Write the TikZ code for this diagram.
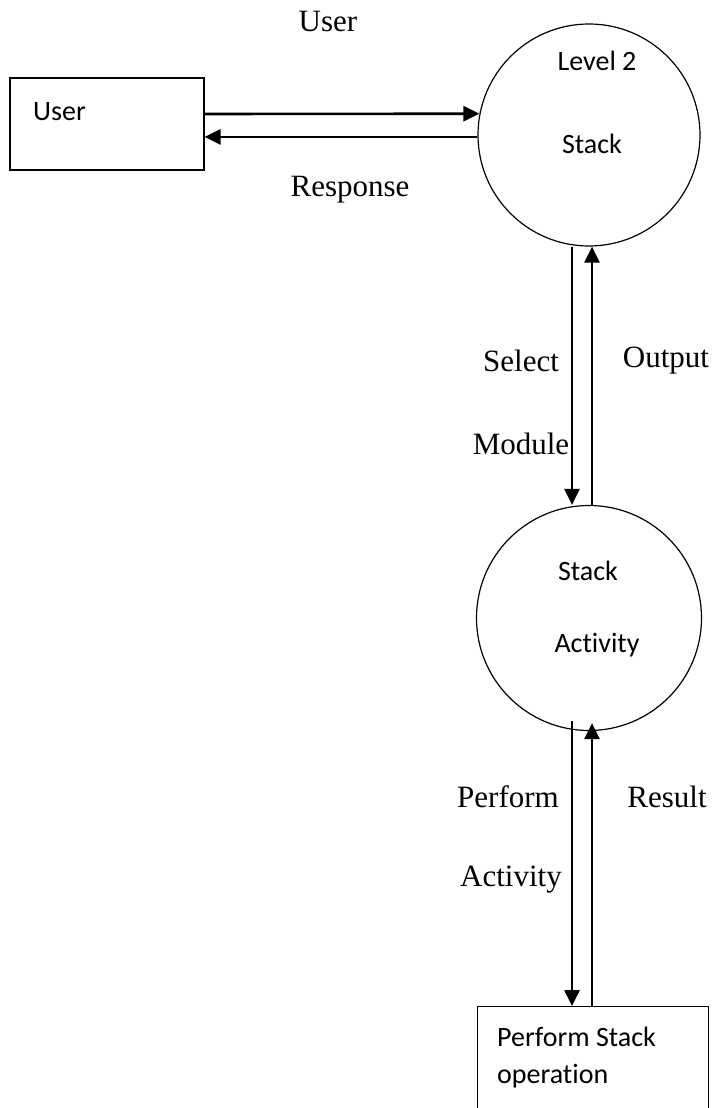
\documentclass[tikz,border=0pt]{standalone}
\usepackage{fontspec}
\setmainfont{Liberation Serif}
\newfontfamily\boxfont[Ligatures=NoCommon]{Carlito}
\usetikzlibrary{arrows.meta}
\begin{document}
\begin{tikzpicture}[x=1pt,y=-1pt,
  flow/.style={line width=2.6pt,-{Triangle[length=16pt,width=15pt]}},
  proc/.style={draw,line width=1.2pt,circle,minimum size=222pt,inner sep=0pt},
  ent/.style={draw,line width=1.2pt,rectangle,inner sep=0pt},
  boxtxt/.style={font=\boxfont\fontsize{28}{30}\selectfont,inner sep=0pt},
  lbl/.style={font=\fontsize{31}{33}\selectfont,inner sep=0pt}]
\clip (0,0) rectangle (714,1108);
\fill[white] (0,0) rectangle (714,1108);

% external entity and processes
\node[ent,minimum width=194pt,minimum height=92pt] (user) at (107,124) {};
\node[boxtxt,anchor=west] (usertxt) at (33,112) {User};

\node[proc] (lvl) at (589,135) {};
\node[boxtxt] (lvlA) at (597,61) {Level 2};
\node[boxtxt] (lvlB) at (592,144) {Stack};

\node[proc,minimum size=225pt] (act) at (589,618) {};
\node[boxtxt] (actA) at (588,571) {Stack};
\node[boxtxt] (actB) at (597,645) {Activity};

\node[ent,minimum width=231pt,minimum height=140pt,anchor=north west] (op) at (477,1006) {};
\node[boxtxt,anchor=west] (opA) at (497,1037) {Perform Stack};
\node[boxtxt,anchor=west] (opB) at (497,1076) {operation};

% data flows
\draw[flow] ([yshift=10pt]user.east) -- (lvl.169.5);
\draw[flow] (lvl.181) -- (lvl.181 -| user.east);

\draw[flow] ([xshift=-17pt]lvl.south) -- ([xshift=-17pt]act.north);
\draw[flow] ([xshift=3pt]act.north) -- ([xshift=3pt]lvl.south);

\draw[flow] ([xshift=-17pt,yshift=10pt]act.south) -- (op.north -| 572,0);
\draw[flow] (op.north -| 592,0) -- ([xshift=3pt,yshift=8pt]act.south);

% flow labels
\node[lbl] (l1) at (328,22) {User};
\node[lbl] (l2) at (350,190) {Response};
\node[lbl] (l3) at (521,361) {Select};
\node[lbl] (l4) at (666,361) {Output};
\node[lbl] (l5) at (521,444) {Module};
\node[lbl] (l6) at (508,797) {Perform};
\node[lbl] (l7) at (667,797) {Result};
\node[lbl] (l8) at (511,880) {Activity};
\end{tikzpicture}
\end{document}
